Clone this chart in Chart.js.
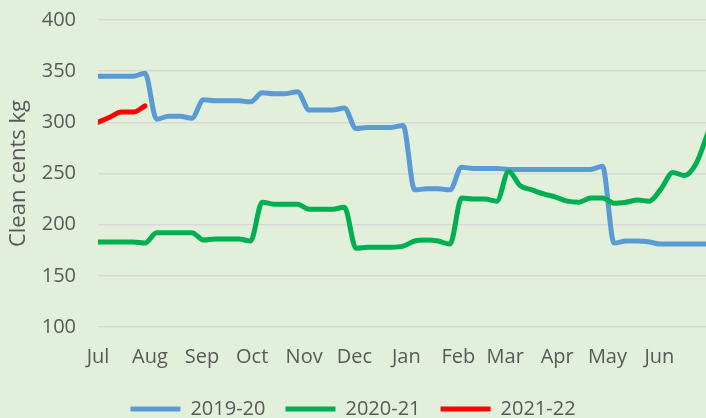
<!DOCTYPE html>
<html>
<head>
<meta charset="utf-8">
<title>Clean cents kg</title>
<script src="https://cdn.jsdelivr.net/npm/chart.js@4"></script>
<style>
  html, body { margin: 0; padding: 0; background: #E2EFDA; overflow: hidden; }
  #wrap { width: 706px; height: 418px; position: relative; }
</style>
</head>
<body>
<div id="wrap"><canvas id="priceChart"></canvas></div>
<script>
// month labels sit at the first day of each month (days since 1 July)
const monthLabels = ['Jul', 'Aug', 'Sep', 'Oct', 'Nov', 'Dec', 'Jan', 'Feb', 'Mar', 'Apr', 'May', 'Jun'];
const monthStartDays = [0, 31, 62, 92, 123, 153, 184, 215, 243, 274, 304, 335];

// weekly prices, week 0 = first week of July
const season1920 = [345, 345, 345, 345, 348, 303, 306, 306, 304, 322, 321, 321, 321, 320, 329, 328, 328, 330,
  312, 312, 312, 314, 294, 295, 295, 295, 297, 234, 235, 235, 234, 256, 255, 255, 255, 254, 254, 254, 254,
  254, 254, 254, 254, 257, 182, 184, 184, 183, 181, 181, 181, 181, 181];
const season2021 = [183, 183, 183, 183, 182, 192, 192, 192, 192, 185, 186, 186, 186, 184, 222, 220, 220, 220,
  215, 215, 215, 217, 177, 178, 178, 178, 179, 184, 185, 184, 181, 226, 225, 225, 223, 252, 238, 234, 230,
  227, 223, 222, 226, 226, 221, 222, 224, 223, 235, 251, 248, 260, 290];
const season2122 = [300, 305, 310, 310, 316];

const textColor = '#595959';
const fontFamily = "'Open Sans', sans-serif";

const toPoints = (values) => values.map((v, i) => ({ x: i, y: v }));

const lineSet = (label, values, color, order) => ({
  label: label,
  data: toPoints(values),
  borderColor: color,
  backgroundColor: color,
  borderWidth: 5,
  borderCapStyle: 'round',
  borderJoinStyle: 'round',
  pointRadius: 0,
  pointHoverRadius: 0,
  cubicInterpolationMode: 'monotone',
  fill: false,
  order: order,
});

const ctx = document.getElementById('priceChart').getContext('2d');
const priceChart = new Chart(ctx, {
  type: 'line',
  data: {
    datasets: [
      lineSet('2019-20', season1920, '#5B9BD5', 2),
      lineSet('2020-21', season2021, '#00B050', 1),
      lineSet('2021-22', season2122, '#FF0000', 0),
    ],
  },
  options: {
    responsive: true,
    maintainAspectRatio: false,
    animation: false,
    layout: { padding: { top: 20, right: 0, bottom: -11, left: 0 } },
    plugins: {
      tooltip: { enabled: false },
      legend: {
        position: 'bottom',
        labels: {
          usePointStyle: true,
          pointStyle: 'line',
          pointStyleWidth: 50,
          padding: 20,
          color: textColor,
          font: { family: fontFamily, size: 20 },
          sort: (a, b) => a.datasetIndex - b.datasetIndex,
        },
      },
    },
    scales: {
      x: {
        type: 'linear',
        min: 0,
        max: 51.83,
        grid: { display: false, drawTicks: false },
        border: { display: false },
        afterBuildTicks: (scale) => {
          scale.ticks = monthStartDays.map(d => ({ value: d / 7 }));
        },
        afterFit: (scale) => { scale.height = 52; },
        ticks: {
          autoSkip: false,
          maxRotation: 0,
          padding: 18,
          color: textColor,
          font: { family: fontFamily, size: 20 },
          callback: (value, index) => monthLabels[index],
        },
      },
      y: {
        min: 100,
        max: 400,
        // invisible tick marks give the gap between labels and plot
        grid: { color: '#D9D9D9', lineWidth: 1.5, drawTicks: true, tickLength: 22, tickColor: 'rgba(0,0,0,0)' },
        border: { display: false },
        afterFit: (scale) => { scale.width = 98; },
        ticks: {
          stepSize: 50,
          padding: 0,
          color: textColor,
          font: { family: fontFamily, size: 20 },
        },
        title: {
          display: true,
          text: 'Clean cents kg',
          color: textColor,
          font: { family: fontFamily, size: 22 },
          padding: { top: 6, bottom: 0 },
        },
      },
    },
  },
});
</script>
</body>
</html>
